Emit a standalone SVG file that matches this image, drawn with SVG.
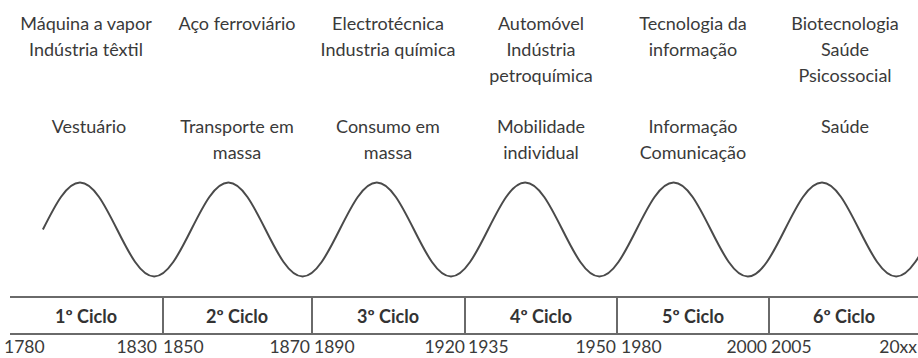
<svg xmlns="http://www.w3.org/2000/svg" width="918" height="358" viewBox="0 0 918 358">
<style>
.t{font-family:Lato,"Liberation Sans",sans-serif;font-size:18px;fill:#3a3a3a;text-anchor:middle}
.b{font-family:Lato,"Liberation Sans",sans-serif;font-size:18px;font-weight:bold;fill:#333;text-anchor:middle}
.y{font-family:Lato,"Liberation Sans",sans-serif;font-size:17.5px;fill:#3a3a3a}
.ln{stroke:#6a6a6a;stroke-width:2;fill:none}
.wave{stroke:#4a4a4a;stroke-width:2;fill:none}
</style>
<rect width="918" height="358" fill="#fff"/>
<g id="tech">
<g id="tech1"><text class="t" x="86" y="30">Máquina a vapor</text><text class="t" x="86" y="56">Indústria têxtil</text></g>
<g id="tech2"><text class="t" x="237" y="30">Aço ferroviário</text></g>
<g id="tech3"><text class="t" x="388" y="30">Electrotécnica</text><text class="t" x="388" y="56">Industria química</text></g>
<g id="tech4"><text class="t" x="541" y="30">Automóvel</text><text class="t" x="541" y="56">Indústria</text><text class="t" x="541" y="82">petroquímica</text></g>
<g id="tech5"><text class="t" x="693" y="30">Tecnologia da</text><text class="t" x="693" y="56">informação</text></g>
<g id="tech6"><text class="t" x="845" y="30">Biotecnologia</text><text class="t" x="845" y="56">Saúde</text><text class="t" x="845" y="82">Psicossocial</text></g>
</g>
<g id="market">
<g id="market1"><text class="t" x="89" y="133">Vestuário</text></g>
<g id="market2"><text class="t" x="237" y="133">Transporte em</text><text class="t" x="237" y="159">massa</text></g>
<g id="market3"><text class="t" x="388" y="133">Consumo em</text><text class="t" x="388" y="159">massa</text></g>
<g id="market4"><text class="t" x="541" y="133">Mobilidade</text><text class="t" x="541" y="159">individual</text></g>
<g id="market5"><text class="t" x="693" y="133">Informação</text><text class="t" x="693" y="159">Comunicação</text></g>
<g id="market6"><text class="t" x="845" y="133">Saúde</text></g>
</g>
<path id="wave" class="wave" d="M42.9,229.5
c12.1,-24.08 23.67,-47 37.1,-47 c13.43,0 25,22.92 37.1,47 c12.1,24.08 23.67,47 37.1,47 c13.43,0 25,-22.92 37.1,-47
c12.1,-24.08 23.67,-47 37.1,-47 c13.43,0 25,22.92 37.1,47 c12.1,24.08 23.67,47 37.1,47 c13.43,0 25,-22.92 37.1,-47
c12.1,-24.08 23.67,-47 37.1,-47 c13.43,0 25,22.92 37.1,47 c12.1,24.08 23.67,47 37.1,47 c13.43,0 25,-22.92 37.1,-47
c12.1,-24.08 23.67,-47 37.1,-47 c13.43,0 25,22.92 37.1,47 c12.1,24.08 23.67,47 37.1,47 c13.43,0 25,-22.92 37.1,-47
c12.1,-24.08 23.67,-47 37.1,-47 c13.43,0 25,22.92 37.1,47 c12.1,24.08 23.67,47 37.1,47 c13.43,0 25,-22.92 37.1,-47
c12.1,-24.08 23.67,-47 37.1,-47 c13.43,0 25,22.92 37.1,47 c12.1,24.08 23.67,47 37.1,47 c13.43,0 25,-22.92 37.1,-47"/>
<g id="connectors">
<line class="ln" x1="10" y1="297" x2="918" y2="297"/>
<line class="ln" x1="10" y1="334" x2="918" y2="334"/>
<line class="ln" x1="163" y1="297" x2="163" y2="334"/>
<line class="ln" x1="312" y1="297" x2="312" y2="334"/>
<line class="ln" x1="465" y1="297" x2="465" y2="334"/>
<line class="ln" x1="617" y1="297" x2="617" y2="334"/>
<line class="ln" x1="769" y1="297" x2="769" y2="334"/>
</g>
<g id="cycle1"><text class="b" x="86" y="323">1º Ciclo</text></g>
<g id="cycle2"><text class="b" x="237" y="323">2º Ciclo</text></g>
<g id="cycle3"><text class="b" x="388" y="323">3º Ciclo</text></g>
<g id="cycle4"><text class="b" x="541" y="323">4º Ciclo</text></g>
<g id="cycle5"><text class="b" x="693" y="323">5º Ciclo</text></g>
<g id="cycle6"><text class="b" x="844" y="323">6º Ciclo</text></g>
<g id="years">
<text class="y" x="4" y="353">1780</text>
<text class="y" x="157" y="353" text-anchor="end">1830</text>
<text class="y" x="163" y="353">1850</text>
<text class="y" x="310" y="353" text-anchor="end">1870</text>
<text class="y" x="314" y="353">1890</text>
<text class="y" x="465" y="353" text-anchor="end">1920</text>
<text class="y" x="468" y="353">1935</text>
<text class="y" x="616" y="353" text-anchor="end">1950</text>
<text class="y" x="621" y="353">1980</text>
<text class="y" x="767" y="353" text-anchor="end">2000</text>
<text class="y" x="771" y="353">2005</text>
<text class="y" x="917" y="353" text-anchor="end">20xx</text>
</g>
</svg>
